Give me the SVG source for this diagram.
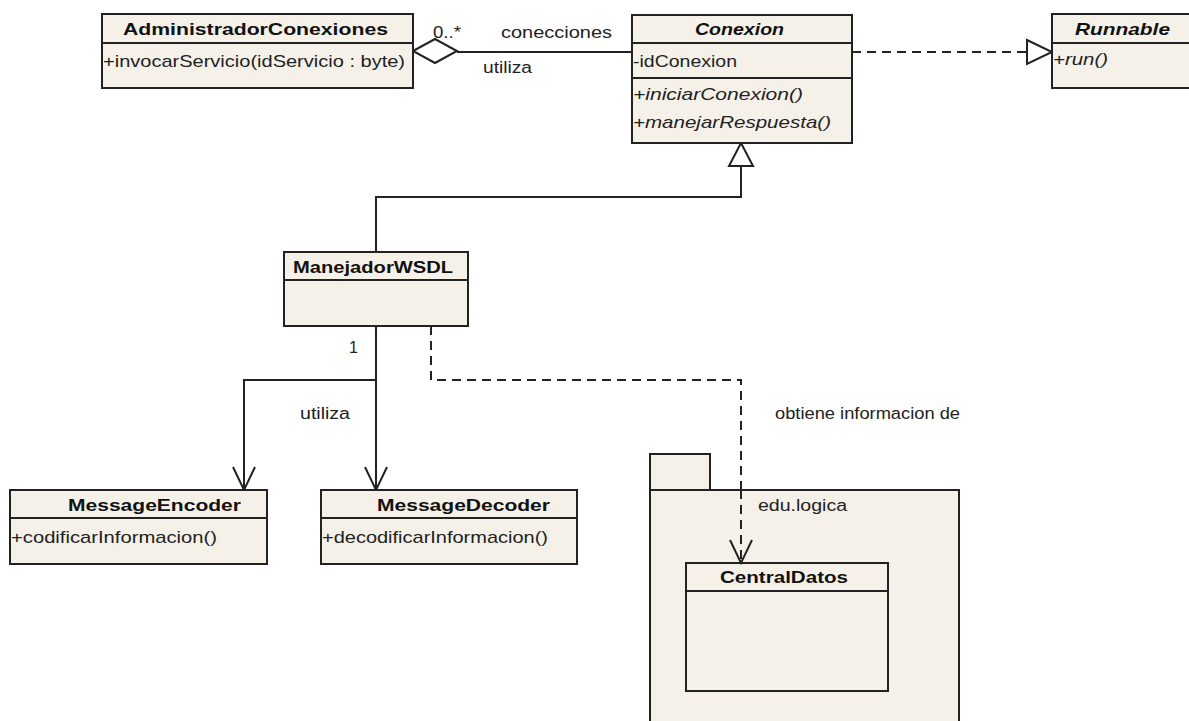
<svg xmlns="http://www.w3.org/2000/svg" width="1189" height="721" viewBox="0 0 1189 721">
  <defs>
    <style>
      .box { fill: #F5F1E9; stroke: #222; stroke-width: 2; }
      .sep { stroke: #222; stroke-width: 2; fill: none; }
      .edge { stroke: #222; stroke-width: 2; fill: none; }
      .dash { stroke: #222; stroke-width: 2; fill: none; stroke-dasharray: 9 6; }
      .title { font-family: "Liberation Sans", Arial, sans-serif; font-weight: bold; font-size: 17px; fill: #111; }
      .ital { font-style: italic; }
      .member { font-family: "Liberation Sans", Arial, sans-serif; font-size: 17px; fill: #222; }
      .label { font-family: "Liberation Sans", Arial, sans-serif; font-size: 16px; fill: #222; }
    </style>
  </defs>
  <rect width="1189" height="721" fill="#fff"/>

  <!-- connectors -->
  <g id="connectors">
    <!-- aggregation AdministradorConexiones <>— Conexion -->
    <path class="edge" d="M457 52 L632 52"/>
    <polygon points="413,51 435,39 457,51 435,63" fill="#fff" stroke="#222" stroke-width="2"/>
    <text class="label" x="433" y="38" textLength="28" lengthAdjust="spacingAndGlyphs">0..*</text>
    <text class="label" x="501" y="38" textLength="111" lengthAdjust="spacingAndGlyphs">conecciones</text>
    <text class="label" x="483" y="73" textLength="49" lengthAdjust="spacingAndGlyphs">utiliza</text>

    <!-- realization Conexion - - |> Runnable -->
    <path class="dash" d="M852 52 L1027 52"/>
    <polygon points="1027,40 1052,52 1027,64" fill="#fff" stroke="#222" stroke-width="2"/>

    <!-- generalization ManejadorWSDL —|> Conexion -->
    <path class="edge" d="M376 252 L376 197 L741 197 L741 166"/>
    <polygon points="741,143 753,166 729,166" fill="#fff" stroke="#222" stroke-width="2"/>

    <!-- associations ManejadorWSDL -> encoder / decoder -->
    <path class="edge" d="M376 326 L376 490"/>
    <path class="edge" d="M376 380 L244 380 L244 490"/>
    <path class="edge" d="M233 467 L244 490 L255 467"/>
    <path class="edge" d="M365 467 L376 490 L387 467"/>
    <text class="label" x="349" y="353">1</text>
    <text class="label" x="300" y="419" textLength="50" lengthAdjust="spacingAndGlyphs">utiliza</text>

    <!-- dependency ManejadorWSDL - - > CentralDatos -->
    <path class="dash" d="M431 326 L431 380 L741 380 L741 562"/>
    <path class="edge" d="M730 540 L741 563 L752 540"/>
    <text class="label" x="775" y="419" textLength="185" lengthAdjust="spacingAndGlyphs">obtiene informacion de</text>
  </g>

  <!-- AdministradorConexiones -->
  <g id="AdministradorConexiones">
    <rect class="box" x="102" y="14" width="311" height="74"/>
    <path class="sep" d="M102 43 L413 43"/>
    <text class="title" x="123" y="35" textLength="265" lengthAdjust="spacingAndGlyphs">AdministradorConexiones</text>
    <text class="member" x="103" y="67" textLength="302" lengthAdjust="spacingAndGlyphs">+invocarServicio(idServicio : byte)</text>
  </g>

  <!-- Conexion -->
  <g id="Conexion">
    <rect class="box" x="632" y="15" width="220" height="128"/>
    <path class="sep" d="M632 43 L852 43 M632 78 L852 78"/>
    <text class="title ital" x="695" y="35" textLength="89" lengthAdjust="spacingAndGlyphs">Conexion</text>
    <text class="member" x="633" y="67" textLength="104" lengthAdjust="spacingAndGlyphs">-idConexion</text>
    <text class="member ital" x="633" y="100" textLength="170" lengthAdjust="spacingAndGlyphs">+iniciarConexion()</text>
    <text class="member ital" x="633" y="128" textLength="198" lengthAdjust="spacingAndGlyphs">+manejarRespuesta()</text>
  </g>

  <!-- Runnable -->
  <g id="Runnable">
    <rect class="box" x="1052" y="14" width="140" height="74"/>
    <path class="sep" d="M1052 43 L1192 43"/>
    <text class="title ital" x="1075" y="35" textLength="95" lengthAdjust="spacingAndGlyphs">Runnable</text>
    <text class="member ital" x="1053" y="65" textLength="55" lengthAdjust="spacingAndGlyphs">+run()</text>
  </g>

  <!-- ManejadorWSDL -->
  <g id="ManejadorWSDL">
    <rect class="box" x="284" y="252" width="184" height="74"/>
    <path class="sep" d="M284 280 L468 280"/>
    <text class="title" x="293" y="273" textLength="160" lengthAdjust="spacingAndGlyphs">ManejadorWSDL</text>
  </g>

  <!-- MessageEncoder -->
  <g id="MessageEncoder">
    <rect class="box" x="10" y="490" width="257" height="74"/>
    <path class="sep" d="M10 518 L267 518"/>
    <text class="title" x="68" y="511" textLength="173" lengthAdjust="spacingAndGlyphs">MessageEncoder</text>
    <text class="member" x="11" y="543" textLength="206" lengthAdjust="spacingAndGlyphs">+codificarInformacion()</text>
  </g>

  <!-- MessageDecoder -->
  <g id="MessageDecoder">
    <rect class="box" x="321" y="490" width="256" height="74"/>
    <path class="sep" d="M321 518 L577 518"/>
    <text class="title" x="377" y="511" textLength="173" lengthAdjust="spacingAndGlyphs">MessageDecoder</text>
    <text class="member" x="322" y="543" textLength="226" lengthAdjust="spacingAndGlyphs">+decodificarInformacion()</text>
  </g>

  <!-- package edu.logica -->
  <g id="edu.logica">
    <rect class="box" x="650" y="454" width="60" height="36"/>
    <rect class="box" x="650" y="490" width="309" height="240"/>
    <text class="label" x="758" y="511" textLength="89" lengthAdjust="spacingAndGlyphs">edu.logica</text>
  </g>

  <!-- CentralDatos (inside edu.logica) -->
  <g id="CentralDatos">
    <rect class="box" x="686" y="563" width="202" height="128"/>
    <path class="sep" d="M686 591 L888 591"/>
    <text class="title" x="720" y="583" textLength="128" lengthAdjust="spacingAndGlyphs">CentralDatos</text>
  </g>

  <!-- dependency segment crossing the package body, drawn above it -->
  <g id="connectors-overlay">
    <path class="dash" d="M741 490 L741 562"/>
    <path class="edge" d="M730 540 L741 563 L752 540"/>
  </g>
</svg>
